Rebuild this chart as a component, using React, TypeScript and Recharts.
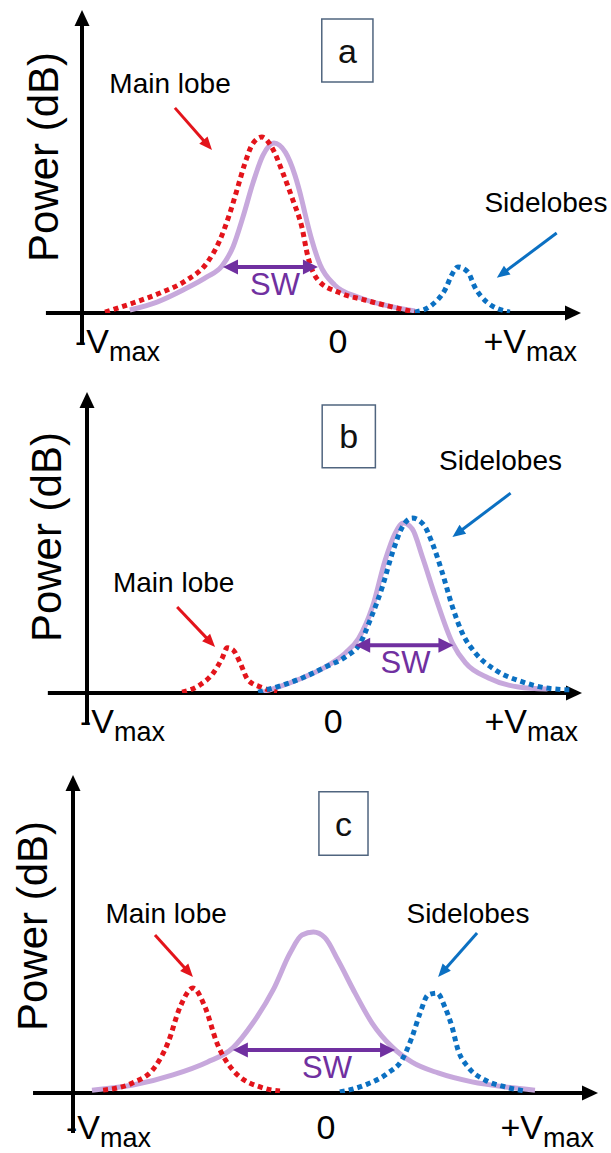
import React from "react";
import {
  LineChart,
  Line,
  XAxis,
  YAxis,
  ReferenceLine,
  ReferenceDot,
  ReferenceArea,
  Label,
} from "recharts";

const FONT = "'Liberation Sans', Arial, Helvetica, sans-serif";
const RED = "#e3141b";
const BLUE = "#0b70c2";
const LILAC = "#c7a8dc";
const PURPLE = "#7030a0";
const BOX = "#50657f";

// tick labels: -Vmax, 0, +Vmax
const TICK_MAIN = ["-V", "0", "+V"];
const TICK_SUB = ["max", "", "max"];

// ---- panel a ----
const spectrumA = [
  { x: -8.13, y: 0.1 }, { x: -7.07, y: 0.36 }, { x: -6.05, y: 0.76 }, { x: -5.12, y: 1.19 },
  { x: -4.53, y: 1.55 }, { x: -4.1, y: 2.18 }, { x: -3.71, y: 3.17 }, { x: -3.32, y: 4.29 },
  { x: -2.93, y: 5.2 }, { x: -2.5, y: 5.61 }, { x: -2.05, y: 5.3 }, { x: -1.68, y: 4.55 },
  { x: -1.41, y: 3.73 }, { x: -1.29, y: 3.3 }, { x: -1.02, y: 2.41 }, { x: -0.7, y: 1.6 },
  { x: -0.12, y: 0.92 }, { x: 0.78, y: 0.53 }, { x: 1.84, y: 0.26 }, { x: 3.01, y: 0.07 },
];
const mainA = [
  { x: -9.1, y: 0.03 }, { x: -8.01, y: 0.33 }, { x: -6.95, y: 0.66 }, { x: -5.9, y: 1.09 },
  { x: -5.12, y: 1.65 }, { x: -4.61, y: 2.41 }, { x: -4.22, y: 3.3 }, { x: -3.91, y: 4.16 },
  { x: -3.63, y: 4.95 }, { x: -3.32, y: 5.6 }, { x: -2.97, y: 5.81 }, { x: -2.55, y: 5.42 },
  { x: -2.15, y: 4.62 }, { x: -1.76, y: 3.73 }, { x: -1.41, y: 2.84 }, { x: -1.17, y: 1.85 },
  { x: -0.78, y: 1.09 }, { x: 0, y: 0.69 }, { x: 1.05, y: 0.43 }, { x: 2.11, y: 0.2 },
  { x: 3.01, y: 0.03 },
];
const sideA = [
  { x: 3.01, y: 0.03 }, { x: 3.67, y: 0.26 }, { x: 4.18, y: 0.76 }, { x: 4.49, y: 1.32 },
  { x: 4.69, y: 1.52 }, { x: 5.08, y: 1.35 }, { x: 5.35, y: 0.86 }, { x: 5.82, y: 0.36 },
  { x: 6.72, y: 0.03 },
];

// ---- panel b ----
const spectrumB = [
  { x: -2.85, y: 0.03 }, { x: -1.26, y: 0.5 }, { x: -0.33, y: 0.86 }, { x: 0.49, y: 1.33 },
  { x: 1.02, y: 1.8 }, { x: 1.59, y: 2.86 }, { x: 2.11, y: 4.42 }, { x: 2.52, y: 5.32 },
  { x: 2.85, y: 5.65 }, { x: 3.21, y: 5.45 }, { x: 3.62, y: 4.52 }, { x: 4.15, y: 3.19 },
  { x: 4.84, y: 1.66 }, { x: 5.37, y: 1.0 }, { x: 6.3, y: 0.5 }, { x: 7.52, y: 0.2 },
  { x: 8.7, y: 0.13 },
];
const mainB = [
  { x: -6.14, y: 0.03 }, { x: -5.41, y: 0.27 }, { x: -4.88, y: 0.66 }, { x: -4.51, y: 1.16 },
  { x: -4.31, y: 1.5 }, { x: -4.07, y: 1.43 }, { x: -3.78, y: 1.0 }, { x: -3.46, y: 0.43 },
  { x: -2.85, y: 0.17 }, { x: -2.28, y: 0.03 },
];
const sideB = [
  { x: -3.05, y: 0.03 }, { x: -2.03, y: 0.27 }, { x: -1.26, y: 0.5 }, { x: -0.33, y: 0.86 },
  { x: 0.49, y: 1.2 }, { x: 1.1, y: 1.66 }, { x: 1.5, y: 2.43 }, { x: 1.99, y: 3.52 },
  { x: 2.4, y: 4.65 }, { x: 2.8, y: 5.51 }, { x: 3.21, y: 5.81 }, { x: 3.66, y: 5.6 },
  { x: 4.02, y: 4.98 }, { x: 4.43, y: 3.99 }, { x: 4.84, y: 2.86 }, { x: 5.24, y: 1.99 },
  { x: 5.77, y: 1.33 }, { x: 6.59, y: 0.76 }, { x: 7.68, y: 0.37 }, { x: 8.62, y: 0.17 },
  { x: 9.72, y: 0.1 },
];

// ---- panel c ----
const spectrumC = [
  { x: -9.25, y: 0.09 }, { x: -7.63, y: 0.25 }, { x: -6.05, y: 0.57 }, { x: -4.7, y: 0.97 },
  { x: -3.68, y: 1.42 }, { x: -2.89, y: 2.2 }, { x: -2.09, y: 3.24 }, { x: -1.42, y: 4.4 },
  { x: -0.95, y: 4.97 }, { x: -0.5, y: 5.06 }, { x: -0.04, y: 4.88 }, { x: 0.47, y: 4.18 },
  { x: 1.15, y: 3.14 }, { x: 1.82, y: 2.2 }, { x: 2.61, y: 1.45 }, { x: 3.4, y: 0.97 },
  { x: 4.43, y: 0.63 }, { x: 5.77, y: 0.35 }, { x: 7.08, y: 0.19 }, { x: 8.26, y: 0.09 },
];
const mainC = [
  { x: -8.81, y: 0.09 }, { x: -7.67, y: 0.31 }, { x: -6.76, y: 0.82 }, { x: -6.25, y: 1.57 },
  { x: -5.77, y: 2.7 }, { x: -5.26, y: 3.3 }, { x: -4.78, y: 2.7 }, { x: -4.31, y: 1.57 },
  { x: -3.68, y: 0.72 }, { x: -2.49, y: 0.16 }, { x: -1.82, y: 0.06 },
];
const sideC = [
  { x: 0.55, y: 0.03 }, { x: 1.54, y: 0.25 }, { x: 2.45, y: 0.63 }, { x: 3.0, y: 1.04 },
  { x: 3.4, y: 1.76 }, { x: 3.72, y: 2.52 }, { x: 4.03, y: 3.08 }, { x: 4.39, y: 3.14 },
  { x: 4.7, y: 2.7 }, { x: 4.98, y: 2.08 }, { x: 5.22, y: 1.35 }, { x: 5.61, y: 0.82 },
  { x: 6.28, y: 0.41 }, { x: 7.08, y: 0.19 }, { x: 7.87, y: 0.06 },
];

type Pt = { x: number; y: number };

// line with a filled triangular head at the end (and at the start if both)
function arrow(color: string, width: number, len: number, wide: number, both = false) {
  return (p: any) => {
    const { x1, y1, x2, y2 } = p;
    const d = Math.hypot(x2 - x1, y2 - y1) || 1;
    const ux = (x2 - x1) / d;
    const uy = (y2 - y1) / d;
    const head = (tx: number, ty: number, s: number) => {
      const bx = tx - s * ux * len;
      const by = ty - s * uy * len;
      return `${tx},${ty} ${bx - (uy * wide) / 2},${by + (ux * wide) / 2} ${bx + (uy * wide) / 2},${by - (ux * wide) / 2}`;
    };
    const sx = both ? x1 + ux * len * 0.8 : x1;
    const sy = both ? y1 + uy * len * 0.8 : y1;
    return (
      <g>
        <line x1={sx} y1={sy} x2={x2 - ux * len * 0.8} y2={y2 - uy * len * 0.8} stroke={color} strokeWidth={width} />
        <polygon points={head(x2, y2, 1)} fill={color} />
        {both && <polygon points={head(x1, y1, -1)} fill={color} />}
      </g>
    );
  };
}

function textAt(txt: string, size: number, color: string, rotate = false) {
  return (p: any) => (
    <text
      x={p.cx}
      y={p.cy}
      fontSize={size}
      fill={color}
      fontFamily={FONT}
      textAnchor="middle"
      dominantBaseline={rotate ? "central" : undefined}
      transform={rotate ? `rotate(-90 ${p.cx} ${p.cy})` : undefined}
    >
      {txt}
    </text>
  );
}

const VTick = (props: any) => {
  const { x, y, payload, index, dy } = props;
  const main = TICK_MAIN[index];
  const sub = TICK_SUB[index];
  const anchor = index === 0 ? "start" : index === 2 ? "end" : "middle";
  const tx = index === 0 ? x - 7 : index === 2 ? x - 4 : x;
  return (
    <text x={tx} y={y + dy} textAnchor={anchor} fontSize={34} fill="#000" fontFamily={FONT} data-v={payload.value}>
      <tspan>{main}</tspan>
      {sub && (
        <tspan fontSize={27} dy={8}>
          {sub}
        </tspan>
      )}
    </text>
  );
};

interface PanelProps {
  letter: string;
  height: number;
  margin: { top: number; right: number; bottom: number; left: number };
  xMin: number;
  xMax: number;
  axisStart: number;
  yAxisEnd: number;
  tickDy: number;
  spectrum: Pt[];
  main: Pt[];
  side: Pt[];
  power: [number, number];
  box: [number, number, number, number];
  mainText: [number, number];
  mainArrow: [[number, number], [number, number]];
  sideText: [number, number];
  sideArrow: [[number, number], [number, number]];
  sw: [number, number, number];
  swText: [number, number];
}

const Panel: React.FC<PanelProps> = (p) => (
  <LineChart width={611} height={p.height} margin={p.margin}>
    <XAxis
      type="number"
      dataKey="x"
      domain={[p.xMin, p.xMax]}
      allowDataOverflow
      ticks={[p.xMin, 0, p.xMax]}
      interval={0}
      axisLine={false}
      tickLine={false}
      tickSize={0}
      tickMargin={0}
      height={50}
      tick={(t: any) => <VTick {...t} dy={p.tickDy} />}
    />
    <YAxis type="number" domain={[0, 10]} allowDataOverflow hide />
    <ReferenceLine
      segment={[{ x: p.xMin, y: p.yAxisEnd }, { x: p.xMin, y: 10 }]}
      ifOverflow="visible"
      shape={arrow("#000", 4, 16, 15)}
    />
    <ReferenceLine
      segment={[{ x: p.axisStart, y: 0 }, { x: p.xMax, y: 0 }]}
      ifOverflow="visible"
      shape={arrow("#000", 4, 16, 15)}
    />
    <ReferenceArea
      x1={p.box[0]}
      x2={p.box[1]}
      y1={p.box[2]}
      y2={p.box[3]}
      fill="#fff"
      fillOpacity={1}
      stroke={BOX}
      strokeWidth={1.5}
      ifOverflow="visible"
    >
      <Label value={p.letter} position="center" fontSize={34} fill="#111" fontFamily={FONT} />
    </ReferenceArea>
    <ReferenceDot x={p.power[0]} y={p.power[1]} ifOverflow="visible" shape={textAt("Power (dB)", 42, "#000", true)} />
    <ReferenceDot x={p.mainText[0]} y={p.mainText[1]} ifOverflow="visible" shape={textAt("Main lobe", 28, "#000")} />
    <ReferenceDot x={p.sideText[0]} y={p.sideText[1]} ifOverflow="visible" shape={textAt("Sidelobes", 28, "#000")} />
    <ReferenceDot x={p.swText[0]} y={p.swText[1]} ifOverflow="visible" shape={textAt("SW", 31, PURPLE)} />
    <ReferenceLine
      segment={[{ x: p.mainArrow[0][0], y: p.mainArrow[0][1] }, { x: p.mainArrow[1][0], y: p.mainArrow[1][1] }]}
      ifOverflow="visible"
      shape={arrow(RED, 3, 13, 11)}
    />
    <ReferenceLine
      segment={[{ x: p.sideArrow[0][0], y: p.sideArrow[0][1] }, { x: p.sideArrow[1][0], y: p.sideArrow[1][1] }]}
      ifOverflow="visible"
      shape={arrow(BLUE, 3, 13, 11)}
    />
    <Line
      data={p.spectrum}
      dataKey="y"
      type="monotone"
      stroke={LILAC}
      strokeWidth={5}
      dot={false}
      activeDot={false}
      isAnimationActive={false}
    />
    <Line
      data={p.main}
      dataKey="y"
      type="monotone"
      stroke={RED}
      strokeWidth={5}
      strokeDasharray="5 4"
      dot={false}
      activeDot={false}
      isAnimationActive={false}
    />
    <Line
      data={p.side}
      dataKey="y"
      type="monotone"
      stroke={BLUE}
      strokeWidth={5}
      strokeDasharray="5 4"
      dot={false}
      activeDot={false}
      isAnimationActive={false}
    />
    <ReferenceLine
      segment={[{ x: p.sw[0], y: p.sw[2] }, { x: p.sw[1], y: p.sw[2] }]}
      ifOverflow="visible"
      shape={arrow(PURPLE, 4, 15, 15, true)}
    />
  </LineChart>
);

export default function App() {
  return (
    <div style={{ position: "absolute", left: 0, top: 0, width: 611, height: 1153, background: "#fff", fontFamily: FONT }}>
      <Panel
        letter="a"
        height={380}
        margin={{ top: 10, right: 30, bottom: 17, left: 82 }}
        xMin={-10}
        xMax={9.5}
        axisStart={-11.41}
        yAxisEnd={-1.06}
        tickDy={40}
        spectrum={spectrumA}
        main={mainA}
        side={sideA}
        power={[-11.52, 5.15]}
        box={[-0.63, 1.37, 7.62, 9.7]}
        mainText={[-6.56, 7.26]}
        mainArrow={[[-6.37, 6.77], [-4.92, 5.38]]}
        sideText={[8.13, 3.33]}
        sideArrow={[[8.55, 2.64], [6.21, 1.16]]}
        sw={[-4.49, -0.78, 1.52]}
        swText={[-2.46, 0.59]}
      />
      <Panel
        letter="b"
        height={380}
        margin={{ top: 12, right: 29, bottom: 17, left: 87 }}
        xMin={-10}
        xMax={10.1}
        axisStart={-11.59}
        yAxisEnd={-1.06}
        tickDy={40}
        spectrum={spectrumB}
        main={mainB}
        side={sideB}
        power={[-11.63, 5.18]}
        box={[-0.45, 1.71, 7.48, 9.57]}
        mainText={[-6.48, 3.36]}
        mainArrow={[[-6.34, 2.86], [-4.8, 1.53]]}
        sideText={[6.79, 7.41]}
        sideArrow={[[7.2, 6.64], [4.84, 5.18]]}
        sw={[0.89, 4.88, 1.59]}
        swText={[2.93, 0.66]}
      />
      <Panel
        letter="c"
        height={393}
        margin={{ top: 15, right: 13, bottom: 10, left: 73 }}
        xMin={-10}
        xMax={10.75}
        axisStart={-11.58}
        yAxisEnd={-1.26}
        tickDy={46}
        spectrum={spectrumC}
        main={mainC}
        side={sideC}
        power={[-11.62, 5.25]}
        box={[-0.28, 1.66, 7.48, 9.47]}
        mainText={[-6.32, 5.35]}
        mainArrow={[[-6.76, 4.97], [-5.26, 3.65]]}
        sideText={[5.61, 5.35]}
        sideArrow={[[5.97, 5.03], [4.43, 3.65]]}
        sw={[-3.68, 2.73, 1.35]}
        swText={[0.04, 0.47]}
      />
    </div>
  );
}
